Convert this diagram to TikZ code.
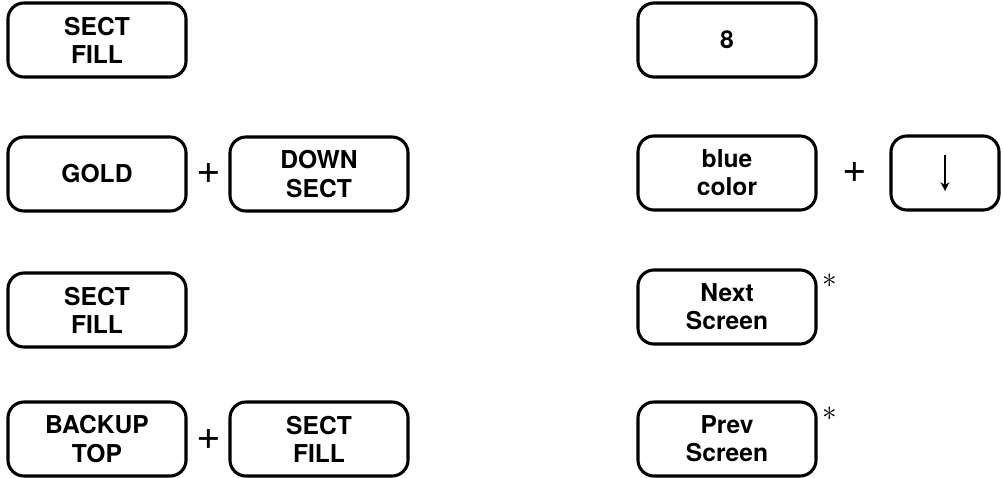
\documentclass[tikz,border=0pt]{standalone}
\usepackage{fontspec}
\setmainfont{TeX Gyre Heros}
\usetikzlibrary{arrows.meta}
\tikzset{
  keycap/.style={draw,line width=2.2pt,rounded corners=0.4cm,minimum width=4.45cm,
    minimum height=1.85cm,align=center,font=\fontsize{17.5}{20}\selectfont\bfseries},
  plussign/.style={font=\fontsize{30}{30}\selectfont},
  starmark/.style={font=\fontsize{20}{20}\selectfont}
}
\begin{document}
\begin{tikzpicture}[x=0.025cm,y=-0.025cm]
    \useasboundingbox (0,0) rectangle (1003,478);
    % left column
    \node (fillA) at (97,40) [keycap] {SECT\\FILL};
    \node (gold) at (97,174) [keycap] {GOLD};
    \node (plusA) at (209,174) [plussign] {+};
    \node (downsect) at (319,174) [keycap] {DOWN\\SECT};
    \node (fillB) at (97,310) [keycap] {SECT\\FILL};
    \node (backup) at (97,439) [keycap] {BACKUP\\TOP};
    \node (plusB) at (209,439) [plussign] {+};
    \node (fillC) at (319,439) [keycap] {SECT\\FILL};
    % right column
    \node (eight) at (727,40) [keycap] {8};
    \node (bluecol) at (727,173) [keycap] {blue\\color};
    \node (plusC) at (855,173) [plussign] {+};
    \node (downkey) at (945,173) [keycap,minimum width=2.7cm] {};
    \draw[line width=1.5pt,-{Stealth[length=2.2mm,width=2.2mm]}] ([yshift=0.45cm]downkey.center) -- ([yshift=-0.45cm]downkey.center);
    \node (nextscr) at (727,307) [keycap] {Next\\Screen};
    \node (starA) at (830,281) [starmark] {$\ast$};
    \node (prevscr) at (727,439) [keycap] {Prev\\Screen};
    \node (starB) at (830,414) [starmark] {$\ast$};
\end{tikzpicture}
\end{document}
